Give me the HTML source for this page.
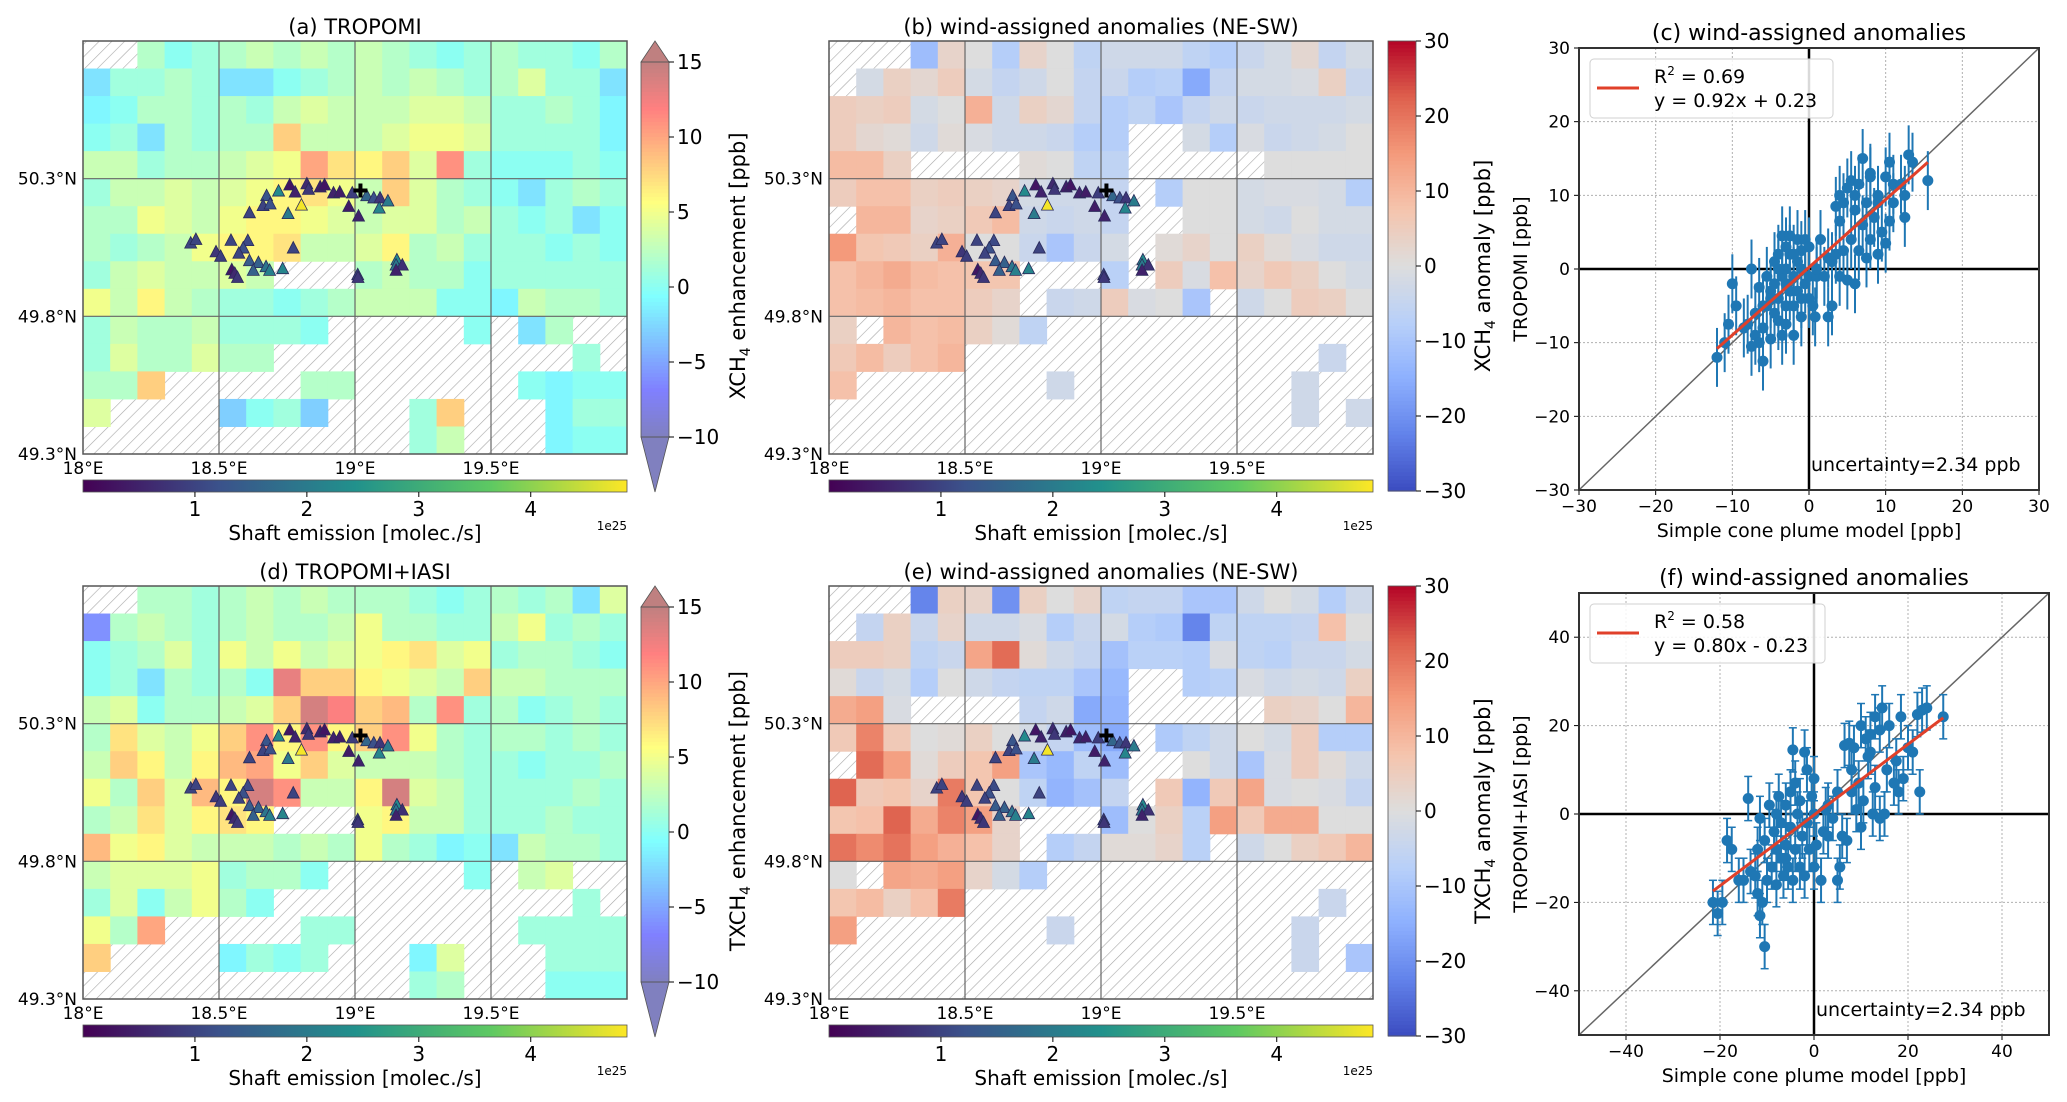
<!DOCTYPE html>
<html><head><meta charset="utf-8"><title>Methane maps and scatter</title>
<style>
html,body{margin:0;padding:0;background:#fff;}
svg{display:block;font-family:"DejaVu Sans","Liberation Sans",sans-serif;}
</style></head>
<body>
<svg id="fig" width="2067" height="1102" viewBox="0 0 2067 1102" xmlns="http://www.w3.org/2000/svg">
<defs>
<pattern id="hatch" patternUnits="userSpaceOnUse" width="9" height="9" patternTransform="rotate(45)">
<rect width="9" height="9" fill="#fff"/>
<line x1="0" y1="0" x2="0" y2="9" stroke="#a8a8a8" stroke-width="1.2"/>
</pattern>
<linearGradient id="gViridis" x1="0" x2="1" y1="0" y2="0">
<stop offset="0" stop-color="#440154"/><stop offset="0.25" stop-color="#3b528b"/><stop offset="0.5" stop-color="#21918c"/><stop offset="0.75" stop-color="#5ec962"/><stop offset="1" stop-color="#fde725"/>
</linearGradient>
</defs>
</svg>
<script>
// ---------- map data (rows north->south, 20 columns 18.0E..20.0E, 0.1 deg) ----------
const mapA = [
[null,null,2,0,1,2,3,2,3,2,3,2,1,0,1,2,1,1,0,2],
[-2,1,1,2,1,-2,-2,0,1,2,3,2,3,2,1,2,4,1,1,-2],
[-1,0,2,2,1,2,1,3,4,3,3,3,4,4,3,1,1,2,1,-1],
[0,1,-2,2,1,2,2,8,3,3,3,4,5,5,4,1,1,1,1,-1],
[3,3,1,2,2,3,4,5,10,7,6,8,4,11,1,0,0,0,1,0],
[1,3,3,4,3,4,5,6,7,5,3,8,4,2,1,0,-2,1,2,1],
[2,2,5,4,3,5,6,6,5,4,3,4,4,2,3,1,0,1,-2,0],
[2,1,2,3,5,6,6,7,3,3,4,6,2,3,1,1,1,0,1,0],
[1,3,4,3,3,4,3,null,null,null,2,3,2,2,0,1,1,1,1,1],
[5,3,6,3,2,1,1,0,1,2,3,3,3,0,0,-1,3,2,2,1],
[1,3,2,2,3,1,1,1,0,null,null,null,null,null,0,null,-2,2,null,null],
[1,4,2,2,4,2,2,null,null,null,null,null,null,null,null,null,null,null,1,null],
[2,2,8,null,null,null,null,null,2,2,null,null,null,null,null,null,0,-1,0,0],
[4,null,null,null,null,-3,0,1,-3,null,null,null,1,8,null,null,null,-1,1,1],
[null,null,null,null,null,null,null,null,null,null,null,null,1,3,null,null,null,-1,0,0]
];
const mapB = [
[null,null,null,-12,3,0,-8,3,0,-6,-3,-3,-3,-6,-8,-4,-2,2,-5,-2],
[null,-2,4,2,5,-2,-5,-3,0,-5,-4,-8,-7,-16,-5,-2,-2,-1,4,-4],
[5,4,5,-2,0,11,-3,4,2,-5,-8,-6,-10,-5,-3,-4,-3,-3,-3,-2],
[5,2,1,-3,1,-1,-3,-3,-4,-8,-8,null,null,-2,-8,-1,-4,-3,-2,0],
[9,9,4,null,null,null,null,1,0,-6,-6,null,null,null,null,null,0,0,0,0],
[5,8,8,4,5,4,3,-2,-3,-3,-5,null,-8,0,0,-2,-1,-1,-2,-8],
[null,10,10,3,4,6,9,-3,-4,-3,-5,null,null,0,0,-2,-3,0,-2,-2],
[15,7,6,4,11,0,0,-4,-10,-4,-2,null,1,3,0,4,1,-1,-3,-3],
[8,10,12,9,8,7,7,null,null,null,-7,null,5,-1,8,3,6,4,0,-2],
[8,9,10,8,8,5,3,null,-4,-3,5,-1,0,-10,null,-3,0,5,4,0],
[4,null,10,8,9,4,1,-6,null,null,null,null,null,null,null,null,null,null,null,null],
[6,9,5,8,10,null,null,null,null,null,null,null,null,null,null,null,null,null,-4,null],
[8,null,null,null,null,null,null,null,-3,null,null,null,null,null,null,null,null,-3,null,null],
[null,null,null,null,null,null,null,null,null,null,null,null,null,null,null,null,null,-3,null,-3],
[null,null,null,null,null,null,null,null,null,null,null,null,null,null,null,null,null,null,null,null]
];
const mapD = [
[null,null,2,2,1,2,3,2,3,2,2,2,1,0,1,2,1,2,-2,4],
[-6,2,3,2,1,2,3,2,2,3,5,2,2,1,1,3,5,1,2,1],
[0,1,2,4,1,5,3,5,3,4,5,6,7,4,5,1,2,2,1,0],
[0,1,-2,2,1,2,0,13,8,8,6,5,4,3,8,3,3,2,2,2],
[3,4,0,2,2,3,4,8,14,12,8,9,2,11,1,2,0,1,2,1],
[2,7,4,3,5,8,11,6,11,6,8,11,5,2,1,2,2,1,2,1],
[3,8,6,3,6,9,10,5,8,4,3,3,3,2,1,1,0,1,1,2],
[5,2,8,4,9,6,14,11,3,3,6,14,4,3,1,1,1,1,2,1],
[2,3,7,4,6,7,6,null,null,null,5,6,3,3,1,1,1,2,1,1],
[9,5,6,4,3,3,3,2,3,2,5,2,1,-1,0,-2,3,2,2,1],
[3,4,4,4,5,1,2,2,0,null,null,null,null,null,0,null,3,4,null,null],
[1,4,0,3,5,2,0,null,null,null,null,null,null,null,null,null,null,null,1,null],
[5,2,10,null,null,null,null,null,1,1,null,null,null,null,null,null,1,1,1,1],
[8,null,null,null,null,-1,1,0,1,null,null,null,-1,4,null,null,null,1,1,1],
[null,null,null,null,null,null,null,null,null,null,null,null,1,2,null,null,null,0,0,0]
];
const mapE = [
[null,null,null,-22,4,3,-20,4,0,3,-6,-5,-5,-10,-10,-3,0,-2,-8,-3],
[null,-5,4,-4,3,-3,-3,-1,-8,-4,-2,-8,-9,-22,-6,-6,-6,-5,8,0],
[5,5,4,-6,-4,13,21,1,-3,-5,-11,-7,-7,-8,-1,-6,-7,-4,-4,-2],
[1,-4,-2,-8,0,-3,-5,-6,-6,-10,-13,null,null,-8,-7,-1,-3,-2,-3,4],
[12,14,-1,null,null,null,null,-5,-3,-16,-14,null,null,null,null,null,4,3,0,10],
[6,18,6,0,1,4,0,-2,-5,-12,-16,null,-9,-6,-3,0,-2,5,-8,-8],
[null,21,14,1,5,7,14,-10,-13,-6,-12,null,null,0,-3,-10,-1,5,1,-3],
[22,6,7,3,19,7,0,-6,-14,-11,-5,null,6,-14,6,13,-1,0,-1,-5],
[7,8,22,12,18,14,3,null,null,null,-12,0,4,-7,14,6,12,12,0,0],
[20,17,20,14,11,8,3,null,-8,-5,1,1,3,-7,null,-3,0,4,6,10],
[0,null,13,12,14,3,-2,-8,null,null,null,null,null,null,null,null,null,null,null,null],
[7,9,4,8,19,null,null,null,null,null,null,null,null,null,null,null,null,null,-4,null],
[14,null,null,null,null,null,null,null,-4,null,null,null,null,null,null,null,null,-4,null,null],
[null,null,null,null,null,null,null,null,null,null,null,null,null,null,null,null,null,-4,null,-10],
[null,null,null,null,null,null,null,null,null,null,null,null,null,null,null,null,null,null,null,null]
];
// coal-mine shafts
const shaftLon = [18.760,18.823,18.872,18.888,18.780,18.829,18.921,18.944,18.990,19.043,19.069,19.092,19.121,19.089,18.719,18.675,18.662,18.688,18.612,18.754,18.803,18.977,19.013,18.396,18.415,18.544,18.606,18.589,18.573,18.489,18.506,18.773,18.612,18.645,18.673,18.686,18.626,18.547,18.558,18.568,18.734,19.010,19.011,19.154,19.151,19.174,19.151];
const shaftLat = [50.277,50.281,50.270,50.277,50.251,50.261,50.248,50.251,50.248,50.238,50.230,50.230,50.219,50.193,50.255,50.238,50.202,50.208,50.176,50.173,50.204,50.199,50.164,50.066,50.079,50.076,50.075,50.048,50.029,50.034,50.018,50.048,50.002,49.995,49.980,49.967,49.967,49.969,49.956,49.941,49.973,49.951,49.941,50.005,49.986,49.986,49.967];
const shaftEmis = [0.3,0.6,0.4,0.3,0.5,0.8,0.5,0.4,0.9,1.6,1.2,0.8,2.0,2.2,2.3,1.3,1.0,1.2,1.0,2.0,4.8,0.4,0.5,1.0,1.0,1.0,1.1,1.2,1.0,0.8,0.9,1.0,1.4,1.5,1.9,2.1,1.5,0.3,0.6,0.8,2.2,1.0,0.8,2.3,2.0,0.7,0.5];
const sourceLon = [19.020];
const sourceLat = [50.257];
// tick labels
const lonTicks = [18,18.5,19,19.5];
const lonLabels = ["18°E","18.5°E","19°E","19.5°E"];
const latTicks = [50.3,49.8,49.3];
const latLabels = ["50.3°N","49.8°N","49.3°N"];
const enhTicks = [15,10,5,0,-5,-10];
const anomTicks = [30,20,10,0,-10,-20,-30];
const emisTicks = [1,2,3,4];
// scatter data
const cX = [-12,-11,-10.5,-10,-9.5,-8,-7.5,-7,-7,-6.5,-6.5,-6,-6,-5.5,-5.5,-5,-5,-4.5,-4.5,-4.5,-4,-4,-4,-3.5,-3.5,-3,-3,-3,-3,-2.5,-2.5,-2.5,-2,-2,-2,-1.5,-1.5,-1.5,-1,-1,-1,-0.5,-0.5,0,0,0,0.5,0.8,1,1.5,2,2.5,2.5,3,3.5,3.5,4,4,4,4.5,4.5,5,5,5.5,5.5,6,6,6.5,6.5,7,7,7.5,7.5,8,8,8,8.5,9,9,9.5,10,10,10.5,10.5,11,11,12,12.5,12.5,13,13.5,15.5,-8.5,-7.5,-6,-3.5,-1,1,3,6,9,-2,-4,-5,-3];
const cY = [-12,-10,-7.5,-2,-5,-7.5,0,-9,-6,-2.5,-10,-12.5,-8,-5,-1,-3,-9.5,-6,-2,1,-4,-7,2,4.5,-1,-5,0,-7.5,3,-3,2,4.5,-1,-5,-9,1,-3,4,0,-6.5,2.5,-2,4,-4,3,-1,-5,-6.5,-1,4,-1,1.5,-6.5,-5,2,8.5,6.5,10,-1,2.5,9,11,-1.5,4,12,10,-2,2.5,11.5,6,15,1.5,9,12.5,4,13,7,9,2,5,12.5,3.5,14.5,6.5,9,11.5,11.5,10,7,15.5,14.5,12,-8,-10.5,-5,-9,-4,0,1,8,10,2,0,-4,-2];
const fX = [-21.5,-20.5,-19.5,-18.5,-17.5,-15,-14,-13.5,-12.5,-12,-11.5,-11.5,-11,-10.5,-10.5,-10,-9.5,-9,-8.5,-8,-8,-7.5,-7,-7,-6.5,-6,-6,-5.5,-5,-5,-4.5,-4.5,-4,-4,-3.5,-3,-3,-2.5,-2,-2,-1.5,-1.5,-1,-0.5,0,0,0.5,1.5,2,2.5,3,4,5,5,5.5,6,6.5,7,7.5,8,8.5,9,9.5,10,10,10.5,11,11.5,12,12.5,13,13,14,14,14.5,15,15.5,16,17,17.5,18,18.5,19,20,21,22,23,24,27.5,22.5,-16,-12,3,8,12,-6,-8,0];
const fY = [-20,-22.5,-20,-6,-8,-15,3.5,-13,-14,-18,-1,-23,-20,-30,-6,-15,2,-12,-4,-16,0,4,-10,-2,-14,2,-7,-12,5,-3,14.5,-15,7,-8,0,-12,3,-5,14,-14,10,-2,-8,4,0,-12,-7,-15,-4,1,-5,-1,5,-15,-12,-5,15.5,-6,16,5,15,1,7,20,-3,3,17,13,18,0,22,6,-1,19,24,0,10,20,7,12,5,22,8,15,14,22.5,23.5,24,22,5,-15,-8,2,10,14,-10,-8,8];
const xyTicksC = [-30,-20,-10,0,10,20,30];
const xyTicksF = [-40,-20,0,20,40];

// ---------- helpers ----------
const NS = "http://www.w3.org/2000/svg";
const svg = document.getElementById('fig');
function mk(tag, attrs, parent){
  const e = document.createElementNS(NS, tag);
  for (const k in attrs) e.setAttribute(k, attrs[k]);
  (parent||svg).appendChild(e);
  return e;
}
function txt(s, x, y, size, anchor, parent, extra){
  const t = mk('text', Object.assign({x:x, y:y, 'font-size':size, 'text-anchor':anchor||'start', fill:'#000'}, extra||{}), parent);
  t.textContent = s;
  return t;
}
function clamp(v){return Math.max(0, Math.min(1, v));}
function jetColor(v){
  const t = clamp((v + 10) / 25);
  const r = clamp(1.5 - Math.abs(4*t - 3)), g = clamp(1.5 - Math.abs(4*t - 2)), b = clamp(1.5 - Math.abs(4*t - 1));
  const m = c => Math.round((0.5*c + 0.5) * 255);
  return 'rgb(' + m(r) + ',' + m(g) + ',' + m(b) + ')';
}
const cwStops = [[59,76,192],[98,130,234],[141,176,254],[184,208,249],[221,221,221],[245,196,173],[244,154,123],[222,96,77],[180,4,38]];
function cwColor(v){
  const t = clamp((v + 30) / 60) * 8;
  const i = Math.min(7, Math.floor(t)), f = t - i;
  const a = cwStops[i], b = cwStops[i+1];
  return 'rgb(' + a.map((c, k) => Math.round(c + (b[k]-c)*f)).join(',') + ')';
}
const viridis = [[68,1,84],[59,82,139],[33,145,140],[94,201,98],[253,231,37]];
function virColor(e){
  const t = clamp(e / 4.86) * 4;
  const i = Math.min(3, Math.floor(t)), f = t - i;
  const a = viridis[i], b = viridis[i+1];
  return 'rgb(' + a.map((c, k) => Math.round(c + (b[k]-c)*f)).join(',') + ')';
}

// ---------- map panel ----------
function drawMap(p){
  const g = mk('g', {});
  
  
  const L = p.x, T = p.y, W = 544, H = 413;
  const xs = lon => L + (lon - 18) / 2 * W;
  const ys = lat => T + (50.8 - lat) / 1.5 * H;
  const tt = txt(p.title, L + W/2, T - 7, 21, 'middle', g);
  
  
  const bg = mk('rect', {x:L, y:T, width:W, height:H, fill:'url(#hatch)'}, g);
  
  
  const cw = W/20, ch = H/15;
  p.data.forEach((row, r) => row.forEach((v, c) => {
    if (v === null) return;
    const cell = mk('rect', {x:(xs(18 + c*0.1)).toFixed(2), y:(ys(50.8 - r*0.1)).toFixed(2), width:(cw+0.5).toFixed(2), height:(ch+0.5).toFixed(2), fill:p.color(v)}, g);
    
    
  }));
  lonTicks.forEach((lo, i) => {
    if (i > 0) mk('line', {x1:xs(lo), x2:xs(lo), y1:T, y2:T+H, stroke:'#666', 'stroke-width':1.2}, g);
    const lt = txt(lonLabels[i], xs(lo), T + H + 20, 17, 'middle', g);
    
    
  });
  latTicks.forEach((la, i) => {
    if (i < 2) mk('line', {x1:L, x2:L+W, y1:ys(la), y2:ys(la), stroke:'#666', 'stroke-width':1.2}, g);
    const lt = txt(latLabels[i], L - 6, ys(la) + 6, 17, 'end', g);
    
    
  });
  mk('rect', {x:L, y:T, width:W, height:H, fill:'none', stroke:'#555', 'stroke-width':1.5}, g);
  // shafts
  shaftLon.forEach((lo, i) => {
    const cx = xs(lo), cy = ys(shaftLat[i]);
    const tri = mk('polygon', {points:(cx-6)+','+(cy+5)+' '+(cx+6)+','+(cy+5)+' '+cx+','+(cy-6.5), fill:virColor(shaftEmis[i]), stroke:'#2a2a5a', 'stroke-width':0.8}, g);
    
    
  });
  sourceLon.forEach((lo, i) => {
    const cx = xs(lo), cy = ys(sourceLat[i]);
    const pl = mk('path', {d:'M'+(cx-7)+' '+cy+'H'+(cx+7)+'M'+cx+' '+(cy-7)+'V'+(cy+7), stroke:'#000', 'stroke-width':4}, g);
    
    
  });
  // horizontal emission colorbar
  const cbY = T + H + 26;
  const hb = mk('rect', {x:L, y:cbY, width:W, height:12, fill:'url(#gViridis)', stroke:'#555', 'stroke-width':0.8}, g);
  
  
  const ex = e => L + e / 4.86 * W;
  emisTicks.forEach(e => {
    mk('line', {x1:ex(e), x2:ex(e), y1:cbY+12, y2:cbY+17, stroke:'#000'}, g);
    const lt = txt(String(e), ex(e), cbY + 36, 20, 'middle', g);
    
    
  });
  const el = txt('Shaft emission [molec./s]', L + W/2, cbY + 60, 20, 'middle', g);
  
  
  txt('1e25', L + W, cbY + 50, 12, 'end', g);
  // vertical colorbar
  const vx = p.cbx, vw = 28;
  if (p.extend){
    const top = T + 21, bot = T + H - 17;
    const span = bot - top;
    for (let k = 0; k < 100; k++){
      const v = 15 - 25 * (k + 0.5) / 100;
      mk('rect', {x:vx, y:(top + k*span/100).toFixed(2), width:vw, height:(span/100+0.6).toFixed(2), fill:jetColor(v)}, g);
    }
    mk('polygon', {points:vx+','+top+' '+(vx+vw)+','+top+' '+(vx+vw/2)+','+T, fill:jetColor(15), stroke:'#555', 'stroke-width':0.8}, g);
    mk('polygon', {points:vx+','+bot+' '+(vx+vw)+','+bot+' '+(vx+vw/2)+','+(T+H+38), fill:jetColor(-10), stroke:'#555', 'stroke-width':0.8}, g);
    const cb = mk('rect', {x:vx, y:top, width:vw, height:span, fill:'none', stroke:'#555', 'stroke-width':0.8}, g);
    
    
    enhTicks.forEach(v => {
      const y = top + (15 - v) / 25 * span;
      mk('line', {x1:vx+vw, x2:vx+vw+5, y1:y, y2:y, stroke:'#000'}, g);
      const lt = txt(v < 0 ? '\u2212' + (-v) : String(v), vx + vw + 8, y + 7, 20, 'start', g);
      
      
    });
  } else {
    const top = T, bot = T + 450, span = bot - top;
    for (let k = 0; k < 120; k++){
      const v = 30 - 60 * (k + 0.5) / 120;
      mk('rect', {x:vx, y:(top + k*span/120).toFixed(2), width:vw, height:(span/120+0.6).toFixed(2), fill:cwColor(v)}, g);
    }
    const cb = mk('rect', {x:vx, y:top, width:vw, height:span, fill:'none', stroke:'#555', 'stroke-width':0.8}, g);
    
    
    anomTicks.forEach(v => {
      const y = top + (30 - v) / 60 * span;
      mk('line', {x1:vx+vw, x2:vx+vw+5, y1:y, y2:y, stroke:'#000'}, g);
      const lt = txt(v < 0 ? '\u2212' + (-v) : String(v), vx + vw + 8, y + 7, 20, 'start', g);
      
      
    });
  }
  const cl = mk('text', {x:0, y:0, 'font-size':21, 'text-anchor':'middle', transform:'translate(' + p.cblx + ',' + (T + 225) + ') rotate(-90)'}, g);
  
  
  cl.innerHTML = p.cbl[0] + 'CH<tspan font-size="14" dy="5">4</tspan><tspan dy="-5"> ' + p.cbl[1] + '</tspan>';
}

drawMap({name:'panel-a-tropomi', title:'(a) TROPOMI', x:83, y:41, data:mapA, color:jetColor, extend:true, cbx:641, cblx:745, cbl:['X','enhancement [ppb]']});
drawMap({name:'panel-b-anomalies', title:'(b) wind-assigned anomalies (NE-SW)', x:829, y:41, data:mapB, color:cwColor, extend:false, cbx:1388, cblx:1490, cbl:['X','anomaly [ppb]']});
drawMap({name:'panel-d-tropomi-iasi', title:'(d) TROPOMI+IASI', x:83, y:586, data:mapD, color:jetColor, extend:true, cbx:641, cblx:745, cbl:['TX','enhancement [ppb]']});
drawMap({name:'panel-e-anomalies', title:'(e) wind-assigned anomalies (NE-SW)', x:829, y:586, data:mapE, color:cwColor, extend:false, cbx:1388, cblx:1490, cbl:['TX','anomaly [ppb]']});

// ---------- scatter panel ----------
function drawScatter(p){
  const g = mk('g', {});
  
  
  const L = p.x, T = p.y, W = p.w, H = p.h, lim = p.lim;
  const xs = v => L + (v + lim) / (2*lim) * W;
  const ys = v => T + H - (v + lim) / (2*lim) * H;
  const tt = txt(p.title, L + W/2, T - 8, 22, 'middle', g);
  
  
  p.ticks.forEach(v => {
    mk('line', {x1:xs(v), x2:xs(v), y1:T, y2:T+H, stroke:'#b0b0b0', 'stroke-width':1, 'stroke-dasharray':'2,2'}, g);
    mk('line', {x1:L, x2:L+W, y1:ys(v), y2:ys(v), stroke:'#b0b0b0', 'stroke-width':1, 'stroke-dasharray':'2,2'}, g);
    const s = v < 0 ? '\u2212' + (-v) : String(v);
    const xl = txt(s, xs(v), T + H + 22, 17, 'middle', g);
    
    
    const yl = txt(s, L - 9, ys(v) + 6, 17, 'end', g);
    
    
    mk('line', {x1:xs(v), x2:xs(v), y1:T+H, y2:T+H+5, stroke:'#000'}, g);
    mk('line', {x1:L-5, x2:L, y1:ys(v), y2:ys(v), stroke:'#000'}, g);
  });
  const one = mk('line', {x1:xs(-lim), y1:ys(-lim), x2:xs(lim), y2:ys(lim), stroke:'#666', 'stroke-width':1.5}, g);
  
  
  mk('line', {x1:xs(0), x2:xs(0), y1:T, y2:T+H, stroke:'#000', 'stroke-width':2.5}, g);
  mk('line', {x1:L, x2:L+W, y1:ys(0), y2:ys(0), stroke:'#000', 'stroke-width':2.5}, g);
  p.xv.forEach((x, i) => {
    const y = p.yv[i];
    const eb = mk('line', {x1:xs(x), x2:xs(x), y1:ys(y - p.err), y2:ys(y + p.err), stroke:'#1f77b4', 'stroke-width':2}, g);
    
    
    if (p.caps){
      mk('line', {x1:xs(x)-4, x2:xs(x)+4, y1:ys(y - p.err), y2:ys(y - p.err), stroke:'#1f77b4', 'stroke-width':1.5}, g);
      mk('line', {x1:xs(x)-4, x2:xs(x)+4, y1:ys(y + p.err), y2:ys(y + p.err), stroke:'#1f77b4', 'stroke-width':1.5}, g);
    }
  });
  p.xv.forEach((x, i) => {
    const pt = mk('circle', {cx:xs(x), cy:ys(p.yv[i]), r:5.5, fill:'#1f77b4'}, g);
    
    
  });
  const x0 = Math.min(...p.xv), x1 = Math.max(...p.xv);
  const reg = mk('line', {x1:xs(x0), y1:ys(p.slope*x0 + p.icpt), x2:xs(x1), y2:ys(p.slope*x1 + p.icpt), stroke:'#e0402a', 'stroke-width':3}, g);
  
  
  mk('rect', {x:L, y:T, width:W, height:H, fill:'none', stroke:'#333', 'stroke-width':2}, g);
  // legend
  const lg = mk('g', {}, g);
  
  
  mk('rect', {x:L+11, y:T+11, width:p.legW, height:59, rx:4, fill:'rgba(255,255,255,0.85)', stroke:'#d0d0d0'}, lg);
  mk('line', {x1:L+18, x2:L+60, y1:T+40, y2:T+40, stroke:'#e0402a', 'stroke-width':3}, lg);
  const r2 = txt('', L+75, T+35, 19, 'start', lg);
  r2.innerHTML = 'R<tspan font-size="12" dy="-8">2</tspan><tspan dy="8"> = ' + p.r2 + '</tspan>';
  txt(p.eq, L+75, T+59, 19, 'start', lg);
  const un = txt('uncertainty=2.34 ppb', xs(0) + 2, T + H - 19, 19, 'start', g);
  
  
  const xl = txt('Simple cone plume model [ppb]', L + W/2, T + H + 47, 19, 'middle', g);
  
  
  const yl = txt(p.ylabel, 0, 0, 19, 'middle', g, {transform:'translate(' + (L - 52) + ',' + (T + H/2) + ') rotate(-90)'});
  
  
}
drawScatter({name:'panel-c-scatter', title:'(c) wind-assigned anomalies', x:1579, y:48, w:460, h:442, lim:30, ticks:xyTicksC, xv:cX, yv:cY, err:4, caps:false, slope:0.92, icpt:0.23, r2:'0.69', eq:'y = 0.92x + 0.23', legW:243, ylabel:'TROPOMI [ppb]'});
drawScatter({name:'panel-f-scatter', title:'(f) wind-assigned anomalies', x:1579, y:593, w:470, h:442, lim:50, ticks:xyTicksF, xv:fX, yv:fY, err:5, caps:true, slope:0.80, icpt:-0.23, r2:'0.58', eq:'y = 0.80x - 0.23', legW:235, ylabel:'TROPOMI+IASI [ppb]'});
</script>
</body></html>
